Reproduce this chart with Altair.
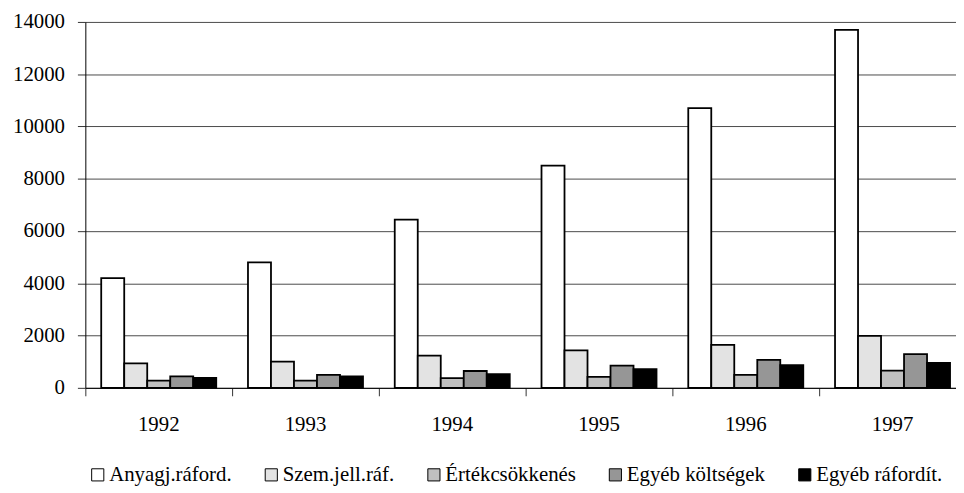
import altair as alt
import pandas as pd

years = ["1992", "1993", "1994", "1995", "1996", "1997"]
series = ["Anyagj.ráford.", "Szem.jell.ráf.", "Értékcsökkenés", "Egyéb költségek", "Egyéb ráfordít."]
anyag = [4200, 4800, 6440, 8500, 10700, 13700]
szem = [940, 1000, 1230, 1430, 1640, 1985]
ertek = [280, 280, 370, 420, 500, 655]
egyeb_k = [440, 500, 645, 850, 1070, 1290]
egyeb_r = [380, 440, 520, 720, 870, 950]
colors = ["#ffffff", "#e3e3e3", "#c0c0c0", "#969696", "#000000"]
y_ticks = [0, 2000, 4000, 6000, 8000, 10000, 12000, 14000]

rows = []
for name, vals in zip(series, [anyag, szem, ertek, egyeb_k, egyeb_r]):
    for yr, v in zip(years, vals):
        rows.append({"year": yr, "series": name, "value": v})
df = pd.DataFrame(rows)

FONT = "Liberation Serif"

chart = alt.Chart(df).mark_bar(stroke="black", strokeWidth=1.8).encode(
    x=alt.X("year:N", sort=years,
            scale=alt.Scale(paddingInner=0, paddingOuter=0),
            axis=alt.Axis(title=None, labelAngle=0, bandPosition=0, tickSize=8,
                          tickColor="#333333", domainColor="black", labelPadding=18,
                          labelFont=FONT, labelFontSize=21, labelColor="black",
                          labelFontWeight="normal")),
    xOffset=alt.XOffset("series:N", sort=series,
                        scale=alt.Scale(paddingInner=0, paddingOuter=0.69)),
    y=alt.Y("value:Q", scale=alt.Scale(domain=[0, 14000], nice=False),
            axis=alt.Axis(title=None, values=y_ticks, format="d", grid=True,
                          gridColor="#4a4a4a", gridWidth=1, tickSize=8,
                          tickColor="#333333", domainColor="black",
                          labelPadding=13, labelFont=FONT, labelFontSize=21,
                          labelColor="black")),
    fill=alt.Fill("series:N", sort=series,
                  scale=alt.Scale(domain=series, range=colors),
                  legend=alt.Legend(title=None, orient="none", direction="horizontal",
                                    legendX=2, legendY=446,
                                    symbolType="square", symbolSize=150,
                                    symbolStrokeColor="black", symbolStrokeWidth=1,
                                    labelFont=FONT, labelFontSize=21, labelColor="black",
                                    labelOffset=1, columnPadding=29)),
).properties(
    width=888, height=369,
    autosize=alt.AutoSizeParams(type="none"),
    padding={"left": 78, "top": 12, "right": -10, "bottom": 104},
).configure_view(stroke=None).configure_axis(labelFontWeight="normal")

chart.save("out.html", embed_options={"renderer": "svg", "actions": False})
